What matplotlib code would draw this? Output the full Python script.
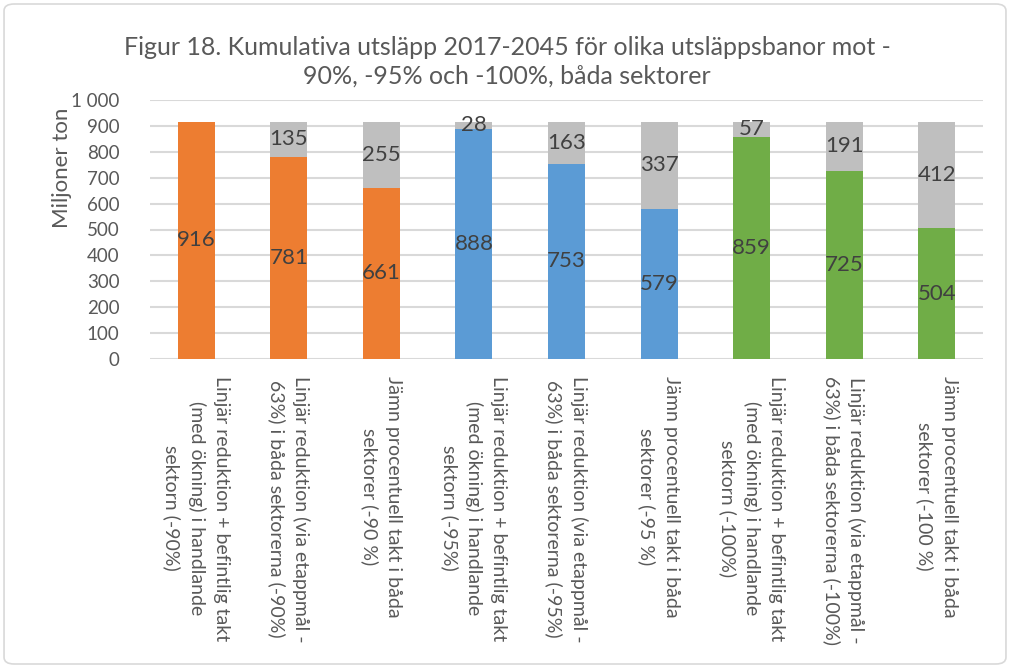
import matplotlib
matplotlib.use("Agg")
import matplotlib.pyplot as plt
from matplotlib.patches import FancyBboxPatch
from matplotlib.ticker import FuncFormatter

plt.rcParams['font.family'] = ['Lato', 'DejaVu Sans']

categories = [
    "Linjär reduktion + befintlig takt\n(med ökning) i handlande\nsektorn (-90%)",
    "Linjär reduktion (via etappmål -\n63%) i båda sektorerna (-90%)",
    "Jämn procentuell takt i båda\nsektorer (-90 %)",
    "Linjär reduktion + befintlig takt\n(med ökning) i handlande\nsektorn (-95%)",
    "Linjär reduktion (via etappmål -\n63%) i båda sektorerna (-95%)",
    "Jämn procentuell takt i båda\nsektorer (-95 %)",
    "Linjär reduktion + befintlig takt\n(med ökning) i handlande\nsektorn (-100%)",
    "Linjär reduktion (via etappmål -\n63%) i båda sektorerna (-100%)",
    "Jämn procentuell takt i båda\nsektorer (-100 %)",
]
base_values = [916, 781, 661, 888, 753, 579, 859, 725, 504]
gap_values = [0, 135, 255, 28, 163, 337, 57, 191, 412]
bar_colors = ["#ED7D31"] * 3 + ["#5B9BD5"] * 3 + ["#70AD47"] * 3
gap_color = "#BFBFBF"
yticks = [0, 100, 200, 300, 400, 500, 600, 700, 800, 900, 1000]

title = "Figur 18. Kumulativa utsläpp 2017-2045 för olika utsläppsbanor mot -\n90%, -95% och -100%, båda sektorer"
ylabel = "Miljoner ton"

fig = plt.figure(figsize=(10.1, 6.68), dpi=100)
ax = fig.add_axes([150/1010, 1-359/668, (983-150)/1010, (359-100)/668])

x = list(range(len(categories)))
w = 0.40
ax.bar(x, base_values, width=w, color=bar_colors, zorder=2)
ax.bar(x, gap_values, width=w, bottom=base_values, color=gap_color, zorder=2)

lab_color = "#404040"
for i, (b, g) in enumerate(zip(base_values, gap_values)):
    ax.text(i, b / 2, str(b), ha="center", va="center", fontsize=16, color=lab_color, zorder=3)
    if g > 0:
        ax.text(i, b + g / 2, str(g), ha="center", va="center", fontsize=16, color=lab_color, zorder=3)

ax.set_xlim(-0.5, len(categories) - 0.5)
ax.set_ylim(0, 1000)
ax.set_yticks(yticks)
ax.yaxis.set_major_formatter(FuncFormatter(lambda v, p: f"{int(v):,}".replace(",", " ")))
ax.grid(axis="y", color="#D9D9D9", linewidth=1.5, zorder=0)
ax.set_axisbelow(True)
for s in ax.spines.values():
    s.set_visible(False)
ax.tick_params(axis="y", length=0, labelsize=13.5, labelcolor="#595959", pad=22)
ax.tick_params(axis="x", length=0)
ax.set_xticks(x)
ax.set_xticklabels(categories, rotation=270, ha="center", va="top",
                   fontsize=14, color="#595959", multialignment="center",
                   linespacing=1.45)
ax.tick_params(axis="x", pad=12)

fig.text(62/1010, 1-168/668, ylabel, rotation=90, ha="center", va="center",
         fontsize=16, color="#595959")
fig.text(507/1010, 1-62/668, title, ha="center", va="center", fontsize=18,
         color="#595959", linespacing=1.3)

border = FancyBboxPatch((0.004, 0.006), 0.992, 0.988, boxstyle="round,pad=0,rounding_size=0.01",
                        transform=fig.transFigure, fill=False, edgecolor="#D9D9D9", linewidth=1.2)
fig.patches.append(border)

fig.savefig("out.png", dpi=100)
